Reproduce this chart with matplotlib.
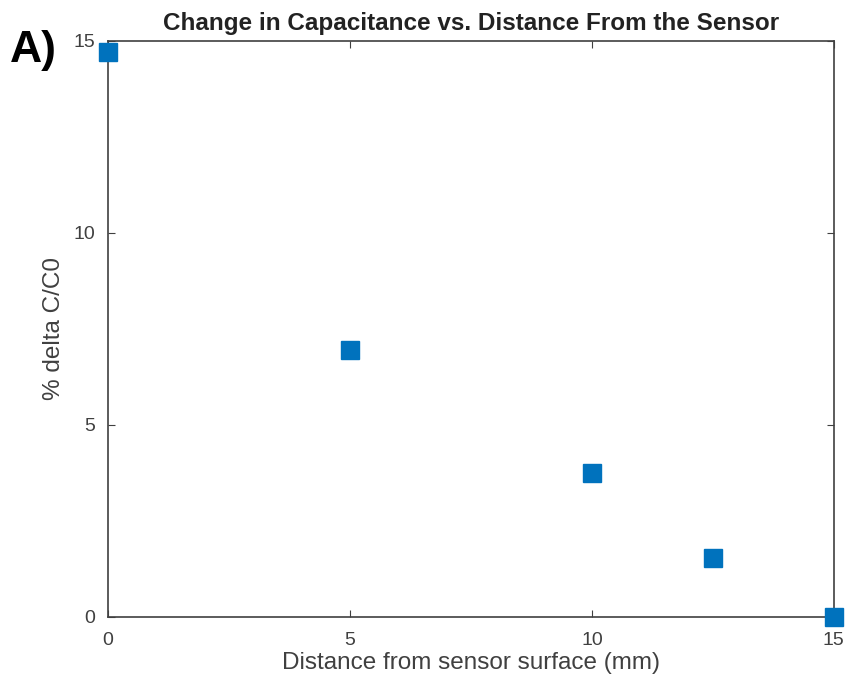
import matplotlib
matplotlib.use("Agg")
import matplotlib.pyplot as plt

plt.rcParams["font.family"] = ["Liberation Sans", "DejaVu Sans"]

distance_mm = [0, 5, 10, 12.5, 15]
delta_c_pct = [14.7, 6.95, 3.75, 1.52, 0.0]

x_ticks = [0, 5, 10, 15]
y_ticks = [0, 5, 10, 15]

fig = plt.figure(figsize=(8.5, 6.9), dpi=100)
ax = fig.add_axes([0.127, 0.106, 0.854, 0.835])

ax.plot(distance_mm, delta_c_pct, linestyle="none", marker="s",
        markersize=13, color="#0072BD", clip_on=False, zorder=5)

ax.set_xlim(0, 15)
ax.set_ylim(0, 15)
ax.set_xticks(x_ticks)
ax.set_yticks(y_ticks)

for side in ["left", "right", "top", "bottom"]:
    ax.spines[side].set_color("#404040")
    ax.spines[side].set_linewidth(1.2)
ax.tick_params(direction="in", top=True, right=True, length=5,
               colors="#404040", labelsize=14, labelcolor="#404040")
ax.tick_params(axis="x", pad=11)
ax.tick_params(axis="y", pad=9)

ax.set_xlabel("Distance from sensor surface (mm)", fontsize=17.5,
              color="#404040", labelpad=2)
ax.set_ylabel("% delta C/C0", fontsize=17.5, color="#404040", labelpad=6)
ax.set_title("Change in Capacitance vs. Distance From the Sensor",
             fontsize=17.5, fontweight="bold", color="#222222", pad=8)

fig.text(0.012, 0.927, "A)", fontsize=32, fontweight="bold", va="center", ha="left")

fig.savefig("out.png", dpi=100)
plt.close(fig)
